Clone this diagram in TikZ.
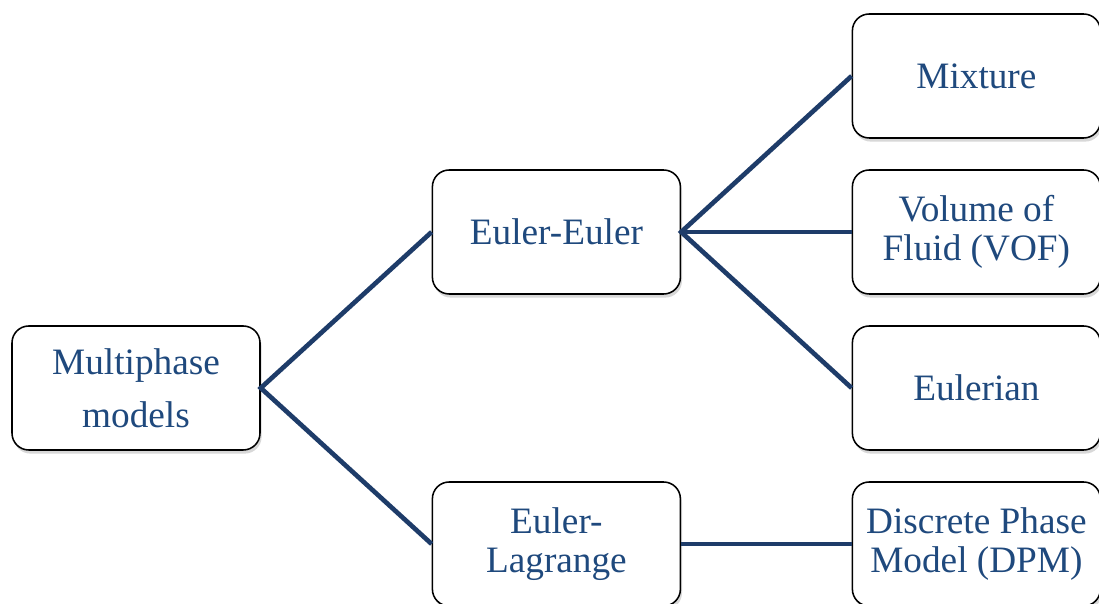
\documentclass[tikz,border=0pt]{standalone}
\usepackage{fontspec}
\setmainfont{Liberation Serif}
\usepackage{tikz}
\usetikzlibrary{shadows, positioning}
\definecolor{textblue}{RGB}{31,73,125}
\definecolor{linkblue}{RGB}{30,60,105}

\begin{document}
\begin{tikzpicture}[
    model/.style={rectangle, rounded corners=0.42cm, draw=black, line width=1.1pt,
        fill=white, text=textblue, align=center, minimum width=6.2cm, minimum height=3.1cm,
        font=\fontsize{26.5}{28}\selectfont,
        drop shadow={shadow xshift=0.04cm, shadow yshift=-0.09cm, opacity=0.25, fill=black!60}},
    link/.style={draw=linkblue, line width=3.3pt}
]
\clip (0,0) rectangle (27.475,15.1);
\fill[white] (0,0) rectangle (27.475,15.1);

% families
\node[model, font=\fontsize{26.5}{37.5}\selectfont] (multi) at (3.4, 5.4) {Multiphase\\models};
\node[model] (ee) at (13.91, 9.3) {Euler-Euler};
\node[model] (el) at (13.91, 1.5) {Euler-\\Lagrange};

% models
\node[model] (mix) at (24.41, 13.2) {Mixture};
\node[model] (vof) at (24.41, 9.3) {Volume of\\Fluid (VOF)};
\node[model] (eul) at (24.41, 5.4) {Eulerian};
\node[model] (dpm) at (24.41, 1.5) {Discrete Phase\\Model (DPM)};

\draw[link] (ee.west) -- (multi.east) -- (el.west);
\draw[link] (mix.west) -- (ee.east) -- (eul.west);
\draw[link] (ee.east) -- (vof.west);
\draw[link] (el.east) -- (dpm.west);
\end{tikzpicture}
\end{document}
